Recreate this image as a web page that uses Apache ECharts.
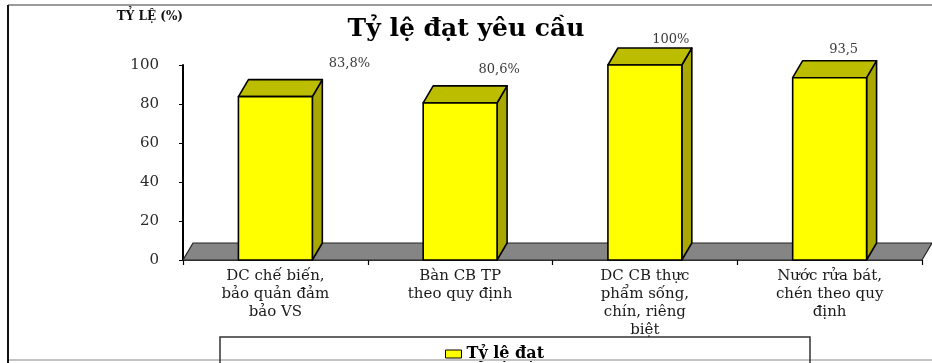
<!DOCTYPE html>
<html>
<head>
<meta charset="utf-8">
<script src="https://cdn.jsdelivr.net/npm/echarts@6/dist/echarts.min.js"></script>
<style>
  html, body { margin: 0; padding: 0; background: #ffffff; }
  #chart { width: 932px; height: 363px; }
</style>
</head>
<body>
<div id="chart"></div>
<script>
// Categories (x axis), values and the value labels shown above each bar
const categories = [
  'DC chế biến,\nbảo quản đảm\nbảo VS',
  'Bàn CB TP\ntheo quy định',
  'DC CB thực\nphẩm sống,\nchín, riêng\nbiệt',
  'Nước rửa bát,\nchén theo quy\nđịnh'
];
const values = [83.8, 80.6, 100, 93.5];
const valueLabels = ['83,8%', '80,6%', '100%', '93,5'];
const seriesName = 'Tỷ lệ đạt';
const yMin = 0, yMax = 100, yStep = 20;

// Drawing style: pseudo-3D depth and label nudges (pixels)
const DEPTH_X = 10, DEPTH_Y = 17;
const labelNudge = [[74, -33], [39, -33], [26, -25], [14, -28]];
const serif = '"DejaVu Serif", "Liberation Serif", serif';

const chart = echarts.init(document.getElementById('chart'), null, { renderer: 'canvas' });

// Grey floor of the plot, spanning the whole category axis
function renderFloor(params, api) {
  const cs = params.coordSys;
  const x0 = cs.x, x1 = cs.x + cs.width, y0 = cs.y + cs.height;
  return {
    type: 'polygon',
    z2: 0,
    shape: { points: [[x0, y0], [x1, y0], [x1 + DEPTH_X, y0 - DEPTH_Y], [x0 + DEPTH_X, y0 - DEPTH_Y]] },
    style: { fill: '#858585', stroke: '#222', lineWidth: 1.2 }
  };
}

// Box-shaped bar: front, top and side faces plus its value label
function renderBox(params, api) {
  const idx = params.dataIndex;
  const top = api.coord([api.value(0), api.value(1)]);
  const base = api.coord([api.value(0), 0]);
  const band = api.size([1, 0])[0];
  const w = band * 0.4;
  const xl = top[0] - w / 2, xr = top[0] + w / 2;
  const yt = top[1], yb = base[1];
  const edge = { stroke: '#000', lineWidth: 1.6, lineJoin: 'round' };
  return {
    type: 'group',
    children: [
      {
        type: 'polygon',
        shape: { points: [[xr, yb], [xr + DEPTH_X, yb - DEPTH_Y], [xr + DEPTH_X, yt - DEPTH_Y], [xr, yt]] },
        style: Object.assign({ fill: '#A8A800' }, edge)
      },
      {
        type: 'polygon',
        shape: { points: [[xl, yt], [xl + DEPTH_X, yt - DEPTH_Y], [xr + DEPTH_X, yt - DEPTH_Y], [xr, yt]] },
        style: Object.assign({ fill: '#BDBD00' }, edge)
      },
      {
        type: 'rect',
        shape: { x: xl, y: yt, width: w, height: yb - yt },
        style: Object.assign({ fill: '#FFFF00' }, edge)
      },
      {
        type: 'text',
        x: top[0] + labelNudge[idx][0],
        y: yt + labelNudge[idx][1],
        style: {
          text: valueLabels[idx],
          fill: '#3a3a3a',
          font: '13px ' + serif,
          align: 'center',
          verticalAlign: 'middle'
        }
      }
    ]
  };
}

const option = {
  backgroundColor: '#ffffff',
  animation: false,
  title: {
    text: 'Tỷ lệ đạt yêu cầu',
    left: 'center',
    top: 12,
    textStyle: { fontFamily: serif, fontWeight: 'bold', fontSize: 25, color: '#000' }
  },
  legend: {
    left: 440,
    top: 341,
    itemWidth: 16,
    itemHeight: 8,
    itemGap: 6,
    data: [{ name: seriesName, icon: 'rect', itemStyle: { color: '#FFFF00', borderColor: '#000', borderWidth: 1 } }],
    textStyle: { fontFamily: serif, fontWeight: 'bold', fontSize: 16, color: '#000', padding: [0, 0, 0, 0] }
  },
  grid: { left: 183, right: 10, top: 65, bottom: 103, containLabel: false },
  xAxis: {
    type: 'category',
    data: categories,
    boundaryGap: true,
    axisLine: { lineStyle: { color: '#000', width: 1.5 } },
    axisTick: { show: true, length: 5, lineStyle: { color: '#000', width: 1.2 } },
    axisLabel: {
      interval: 0,
      margin: 7,
      fontFamily: serif,
      fontSize: 15,
      lineHeight: 18,
      color: '#1a1a1a',
      align: 'center'
    },
    splitLine: { show: false }
  },
  yAxis: {
    type: 'value',
    min: yMin,
    max: yMax,
    interval: yStep,
    name: 'TỶ LỆ (%)',
    nameLocation: 'end',
    nameGap: 48,
    nameTextStyle: { fontFamily: serif, fontWeight: 'bold', fontSize: 12, color: '#111', align: 'right', verticalAlign: 'middle' },
    axisLine: { show: true, lineStyle: { color: '#000', width: 2 } },
    axisTick: { show: true, inside: false, length: 4, lineStyle: { color: '#000' } },
    axisLabel: { margin: 24, fontFamily: serif, fontSize: 15, color: '#2a2a2a' },
    splitLine: { show: false }
  },
  graphic: [
    // chart frame
    { type: 'line', shape: { x1: 8, y1: 5, x2: 932, y2: 5 }, style: { stroke: '#9a9a9a', lineWidth: 2 }, z: 10 },
    { type: 'line', shape: { x1: 8, y1: 360, x2: 932, y2: 360 }, style: { stroke: '#c4c4c4', lineWidth: 2 }, z: 10 },
    { type: 'line', shape: { x1: 8, y1: 5, x2: 8, y2: 363 }, style: { stroke: '#111', lineWidth: 2 }, z: 11 },
    // legend box
    { type: 'rect', shape: { x: 220, y: 337, width: 590, height: 40 }, style: { fill: 'none', stroke: '#333', lineWidth: 1.5 }, z: 11 }
  ],
  series: [
    {
      type: 'custom',
      name: 'floor',
      renderItem: renderFloor,
      data: [[0, 0]],
      silent: true,
      z: 1,
      legendHoverLink: false
    },
    {
      type: 'custom',
      name: seriesName,
      renderItem: renderBox,
      itemStyle: { color: '#FFFF00' },
      data: values.map((v, i) => [i, v]),
      encode: { x: 0, y: 1 },
      z: 2
    }
  ]
};

chart.setOption(option);
</script>
</body>
</html>
